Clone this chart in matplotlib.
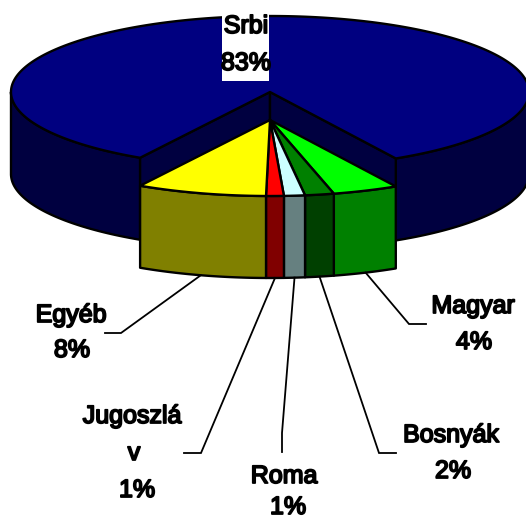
import numpy as np
import matplotlib
matplotlib.use("Agg")
import matplotlib.pyplot as plt
from matplotlib.patches import Polygon, Rectangle
import matplotlib.patheffects as pe

# data
categories = ["Srbi", "Magyar", "Bosnyák", "Roma", "Jugoszláv", "Egyéb"]
values = [83.4, 4.1, 1.8, 1.3, 1.1, 8.1]
pct_labels = ["83%", "4%", "2%", "1%", "1%", "8%"]
top_colors = ["#000080", "#00FF00", "#008000", "#CCFFFF", "#FF0000", "#FFFF00"]
side_colors = ["#000040", "#008000", "#004000", "#668080", "#800000", "#808000"]

# layout (pixels)
W, H = 526, 520
CX, CY, A, B = 270, 92, 259, 76
DEPTH, EXPLODE = 82, 28
START = 210.1
LW = 1.7

fig = plt.figure(figsize=(W / 100, H / 100), dpi=100, facecolor="white")
ax = fig.add_axes([0, 0, 1, 1])
ax.set_xlim(0, W)
ax.set_ylim(H, 0)
ax.axis("off")


def rim(theta, dy=0):
    """theta in degrees clockwise from the top of the ellipse."""
    r = np.radians(theta)
    return np.column_stack([CX + A * np.sin(r), CY + dy - B * np.cos(r)])


def arc(t0, t1, dy=0):
    n = max(3, int(abs(t1 - t0) * 2))
    return rim(np.linspace(t0, t1, n), dy)


def poly(pts, fc, z):
    ax.add_patch(Polygon(pts, closed=True, fc=fc, ec="black", lw=LW,
                         joinstyle="round", zorder=z))


def wall(t0, t1, dy, fc, z):
    top = arc(t0, t1, dy)
    bottom = arc(t0, t1, dy + DEPTH)[::-1]
    poly(np.vstack([top, bottom]), fc, z)


# slice angles
total = sum(values)
edges = [START]
for v in values:
    edges.append(edges[-1] + v / total * 360)

# main (back) slice
t0, t1 = edges[0], edges[1]
apex = np.array([[CX, CY]])
apex_low = np.array([[CX, CY + DEPTH]])
wall(t0, 270, 0, side_colors[0], 1)
wall(450, t1, 0, side_colors[0], 1)
poly(np.vstack([apex, rim(t0), rim(t0, DEPTH), apex_low]), side_colors[0], 2)
poly(np.vstack([apex, rim(t1), rim(t1, DEPTH), apex_low]), side_colors[0], 2)
poly(np.vstack([apex, arc(t0, t1)]), top_colors[0], 3)

# pulled-out front slices
apex2 = np.array([[CX, CY + EXPLODE]])
for i in range(1, len(values)):
    a0, a1 = edges[i], edges[i + 1]
    wall(a0, a1, EXPLODE, side_colors[i], 4)
    poly(np.vstack([apex2, arc(a0, a1, EXPLODE)]), top_colors[i], 5)

# leader lines: elbow and end points per outer label
elbows = {"Magyar": ((409, 324), (426, 324)),
          "Bosnyák": ((379, 453), (396, 453)),
          "Roma": ((282, 433), (282, 452)),
          "Jugoszláv": ((201, 453), (184, 453)),
          "Egyéb": ((121, 333), (105, 333))}
for i, name in enumerate(categories):
    if name not in elbows:
        continue
    mid = (edges[i] + edges[i + 1]) / 2
    s = rim(mid, EXPLODE + DEPTH)[0]
    (ex, ey), (fx, fy) = elbows[name]
    ax.plot([s[0], ex, fx], [s[1], ey, fy], color="black", lw=1.3,
            solid_joinstyle="miter", zorder=6)

# text
stroke = [pe.withStroke(linewidth=1.3, foreground="black")]


def label(x, y, s):
    ax.text(x, y, s, ha="center", va="baseline", fontsize=18,
            family="Liberation Sans", color="black", path_effects=stroke, zorder=9)


ax.add_patch(Rectangle((222, 10), 47, 71, fc="white", ec="none", zorder=8))
label(246, 33, categories[0])
label(246, 70, pct_labels[0])
label(473, 313, categories[1])
label(474, 349, pct_labels[1])
label(451, 442, categories[2])
label(453, 478, pct_labels[2])
label(284, 483, categories[3])
label(288, 514, pct_labels[3])
label(132, 423, categories[4][:-1])
label(134, 460, categories[4][-1])
label(137, 497, pct_labels[4])
label(71, 322, categories[5])
label(72, 357, pct_labels[5])

fig.savefig("out.png", dpi=100, facecolor="white")
